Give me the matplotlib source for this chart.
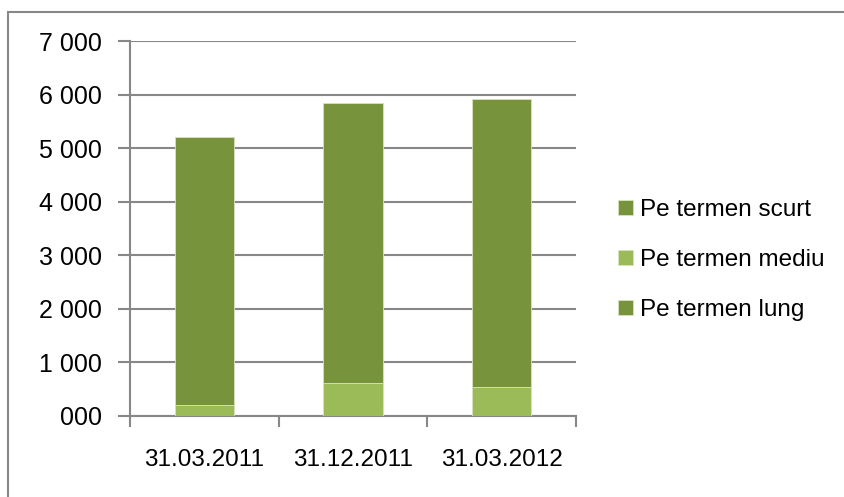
import matplotlib

matplotlib.use("Agg")
import matplotlib.pyplot as plt
import numpy as np
from matplotlib.patches import Rectangle
from matplotlib.ticker import FuncFormatter, MultipleLocator

plt.rcParams["font.family"] = ["Liberation Sans", "DejaVu Sans"]

dates = ["31.03.2011", "31.12.2011", "31.03.2012"]
lung = [0, 0, 0]
mediu = [200, 610, 540]
scurt = [5016, 5230, 5380]

DARK = "#77933C"
LIGHT = "#9BBB59"
GRID = "#878787"


def fmt_thousands(v, pos):
    v = int(round(v))
    thousands, rest = divmod(v, 1000)
    return f"{thousands} {rest:03d}" if thousands else f"{rest:03d}"


fig = plt.figure(figsize=(8.44, 4.97), dpi=100)
ax = fig.add_axes([0.154, 0.163, 0.5285, 0.7545])

x = np.arange(len(dates))
lung_arr = np.array(lung)
mediu_arr = np.array(mediu)
scurt_arr = np.array(scurt)
w = 0.4
kw = dict(width=w, edgecolor="#d6e3bc", linewidth=0.6, zorder=3)
ax.bar(x, lung_arr, color=DARK, label="Pe termen lung", **kw)
ax.bar(x, mediu_arr, bottom=lung_arr, color=LIGHT, label="Pe termen mediu", **kw)
ax.bar(x, scurt_arr, bottom=lung_arr + mediu_arr, color=DARK,
       label="Pe termen scurt", **kw)

ax.set_xlim(-0.5, len(dates) - 0.5)
ax.set_ylim(0, 7000)
ax.yaxis.set_major_locator(MultipleLocator(1000))
ax.yaxis.set_major_formatter(FuncFormatter(fmt_thousands))
ax.grid(True, axis="y", color=GRID, linewidth=1.5, zorder=0)

ax.set_xticks(np.arange(len(dates) + 1) - 0.5)
ax.set_xticklabels([])
ax.set_xticks(x, minor=True)
ax.set_xticklabels(dates, minor=True)
ax.tick_params(axis="x", which="minor", length=0, pad=24, labelsize=17.5)
ax.tick_params(axis="x", which="major", length=8, width=1.5, color=GRID)
ax.tick_params(axis="y", length=9, width=1.5, color=GRID, labelsize=18, pad=11)

for side in ["top", "right"]:
    ax.spines[side].set_visible(False)
for side in ["left", "bottom"]:
    ax.spines[side].set_color(GRID)
    ax.spines[side].set_linewidth(1.5)

handles, labels = ax.get_legend_handles_labels()
ax.legend(handles[::-1], labels[::-1], loc="center left",
          bbox_to_anchor=(1.045, 0.416), frameon=False, fontsize=17.5,
          handlelength=0.6, handleheight=0.6, handletextpad=0.3,
          labelspacing=1.15)

fig.patches.append(Rectangle((0.009, -0.01), 1.2, 0.985, transform=fig.transFigure,
                             fill=False, edgecolor=GRID, linewidth=1.5))

fig.savefig("out.png", dpi=100)
